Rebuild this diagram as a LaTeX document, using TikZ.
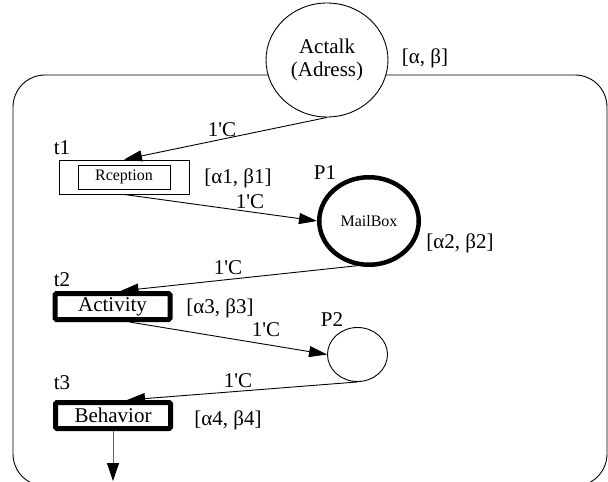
\documentclass[tikz,border=0pt]{standalone}
\usepackage{fontspec}
\setmainfont{Liberation Serif}
\usetikzlibrary{arrows.meta,shapes.geometric}
\begin{document}
\begin{tikzpicture}[x=1pt,y=-1pt,
  every node/.style={font=\fontsize{21}{23}\selectfont},
  lbl/.style={inner sep=0pt},
  small/.style={font=\fontsize{16}{18}\selectfont},
  arr/.style={-{Triangle[length=18pt,width=11pt]}, line width=0.9pt},
  outarr/.style={-{Triangle[length=18pt,width=12pt,color=black,fill=black]}, draw=black!60, line width=0.8pt},
  place/.style={draw, ellipse, inner sep=0pt, line width=0.9pt, fill=white},
  thinbox/.style={draw, rectangle, inner sep=0pt, line width=0.9pt},
  thickbox/.style={draw, rectangle, line width=5pt, rounded corners=1.5pt, inner sep=0pt,
                   minimum width=115pt, minimum height=26pt, fill=white},
]
\useasboundingbox (0,0) rectangle (608,482);
% enclosing rounded frame
\draw[line width=0.9pt, rounded corners=32pt] (13,75) rectangle (607,486);

% places
\node[place, minimum width=122pt, minimum height=114pt, align=center] (act) at (327,60) {Actalk\\(Adress)};
\node[place, line width=4.5pt, minimum width=99.5pt, minimum height=87.5pt, small] (p1) at (369,221) {MailBox};
\node[place, minimum width=60pt, minimum height=54pt] (p2) at (357.5,354.5) {};

% transitions
\node[thinbox, minimum width=130pt, minimum height=34pt] (t1) at (124,177) {};
\node[thinbox, minimum width=92pt, minimum height=24pt, small] (t1in) at (t1.center) {Rception};
\node[thickbox] (t2) at (112.5,306.5) {Activity};
\node[thickbox] (t3) at (113,415.5) {Behavior};
\coordinate (out) at (113,481);

% arcs
\draw[arr] (act.south) -- (t1.north);
\draw[arr] (t1.south) -- (p1.west);
\draw[arr] (p1.255) -- ([xshift=8pt]t2.north);
\draw[arr] ([xshift=17pt]t2.south) -- (p2.west);
\draw[arr] (p2.south) -- ([xshift=14pt]t3.north);
\draw[outarr] (t3.south) -- (out);

% labels
\node[lbl] (lab) at (425,58) {[α, β]};
\node[lbl] (c1) at (222,130) {1\textquotesingle C};
\node[lbl] (lt1) at (62,148) {t1};
\node[lbl] (lab1) at (238,178) {[α1, β1]};
\node[lbl] (lp1) at (325,173) {P1};
\node[lbl] (c2) at (250,202) {1\textquotesingle C};
\node[lbl] (lab2) at (460,243) {[α2, β2]};
\node[lbl] (c3) at (228,268) {1\textquotesingle C};
\node[lbl] (lt2) at (62,280) {t2};
\node[lbl] (lab3) at (220,308) {[α3, β3]};
\node[lbl] (c4) at (266,330) {1\textquotesingle C};
\node[lbl] (lp2) at (332,320) {P2};
\node[lbl] (c5) at (238,381) {1\textquotesingle C};
\node[lbl] (lt3) at (62,383) {t3};
\node[lbl] (lab4) at (228,420) {[α4, β4]};
\end{tikzpicture}
\end{document}
